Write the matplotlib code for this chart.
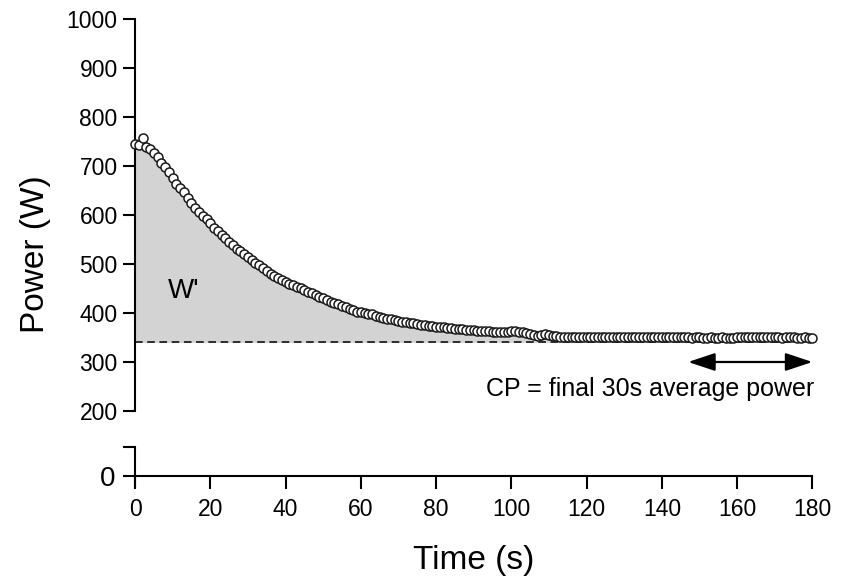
import matplotlib
matplotlib.use("Agg")
import matplotlib.pyplot as plt

plt.rcParams["font.family"] = ["Liberation Sans", "DejaVu Sans"]

# ------------------------------------------------------------
# Data: 1 s power samples of a 3 min all-out test
# ------------------------------------------------------------
time_s = list(range(0, 181))
power_w = [
    745, 743, 757, 738, 735, 727, 718, 706, 697, 688,
    676, 664, 655, 646, 634, 624, 615, 606, 598, 591,
    583, 574, 567, 560, 552, 545, 538, 531, 526, 520,
    514, 508, 502, 497, 491, 486, 480, 475, 471, 467,
    463, 460, 457, 454, 450, 447, 443, 440, 436, 433,
    430, 427, 423, 420, 418, 415, 412, 409, 406, 403,
    401, 399, 398, 397, 394, 392, 390, 388, 387, 385,
    384, 382, 381, 380, 379, 378, 376, 375, 374, 373,
    372, 372, 371, 370, 369, 368, 368, 367, 366, 366,
    365, 364, 364, 363, 363, 362, 362, 362, 361, 362,
    363, 364, 362, 361, 359, 357, 355, 354, 356, 358,
    356, 354, 353, 352, 351, 351, 352, 351, 350, 350,
    351, 350, 350, 351, 352, 351, 350, 350, 351, 352,
    351, 350, 350, 351, 350, 350, 351, 352, 351, 350,
    351, 350, 351, 350, 350, 351, 350, 350, 349, 350,
    350, 349, 349, 350, 349, 349, 350, 349, 349, 349,
    350, 351, 351, 352, 351, 351, 350, 351, 352, 351,
    350, 350, 349, 350, 350, 351, 349, 349, 350, 349,
    349,
]
cp_w = 340
cp_window = (150, 180)

x_ticks = list(range(0, 181, 20))
y_ticks_top = list(range(200, 1001, 100))

LW = 1.5
TICK_LEN = 9
TICK_FS = 16.5

fig = plt.figure(figsize=(8.44, 5.80), dpi=100)

# Upper panel: 200 - 1000 W
ax = fig.add_axes([0.160, 0.2914, 0.8025, 0.6759])
# Lower panel: just the zero line
ax0 = fig.add_axes([0.160, 0.1603, 0.8025, 0.069])

# ---- upper panel --------------------------------------------
ax.fill_between(time_s, power_w, cp_w, color="#d3d3d3", linewidth=0, zorder=1)
ax.axhline(cp_w, color="black", linestyle=(0, (5, 3)), linewidth=1.1, zorder=2)
ax.plot(time_s, power_w, linestyle="none", marker="o", markersize=6.5,
        markerfacecolor="white", markeredgecolor="#1a1a1a",
        markeredgewidth=1.1, clip_on=False, zorder=3)

ax.text(13, 445, "W'", fontsize=20, ha="center", va="center")

ax.annotate("", xy=(cp_window[1], 300), xytext=(cp_window[0] - 3, 300),
            arrowprops=dict(arrowstyle="<|-|>,head_length=1.65,head_width=0.55",
                            color="black", lw=1.6, shrinkA=0, shrinkB=0))
ax.text(180.5, 244, "CP = final 30s average power", fontsize=18,
        ha="right", va="center")

ax.set_xlim(0, 180)
ax.set_ylim(200, 1000)
ax.set_yticks(y_ticks_top)
ax.set_xticks([])
for side in ("top", "right", "bottom"):
    ax.spines[side].set_visible(False)
ax.spines["left"].set_linewidth(LW)
ax.tick_params(axis="y", length=TICK_LEN, width=LW, labelsize=TICK_FS, pad=3.5)
ax.set_ylabel("Power (W)", fontsize=24)
ax.yaxis.set_label_coords(-0.124, 0.40)
ax.patch.set_alpha(0)

# ---- lower panel --------------------------------------------
ax0.set_xlim(0, 180)
ax0.set_ylim(-22, 58)
ax0.set_yticks([0, 58])
ax0.set_yticklabels(["0", ""])
ax0.set_xticks(x_ticks)
for side in ("top", "right"):
    ax0.spines[side].set_visible(False)
ax0.spines["bottom"].set_position(("data", 0))
ax0.spines["bottom"].set_linewidth(LW)
ax0.spines["left"].set_linewidth(LW)
ax0.tick_params(axis="both", length=TICK_LEN, width=LW, labelsize=TICK_FS)
ax0.tick_params(axis="x", pad=7)
ax0.tick_params(axis="y", pad=5.5)
ax0.get_yticklabels()[0].set_fontsize(20)
ax0.set_xlabel("Time (s)", fontsize=24, va="top")
ax0.xaxis.set_label_coords(0.5, -1.45)
ax0.patch.set_alpha(0)

fig.savefig("out.png", dpi=100)
